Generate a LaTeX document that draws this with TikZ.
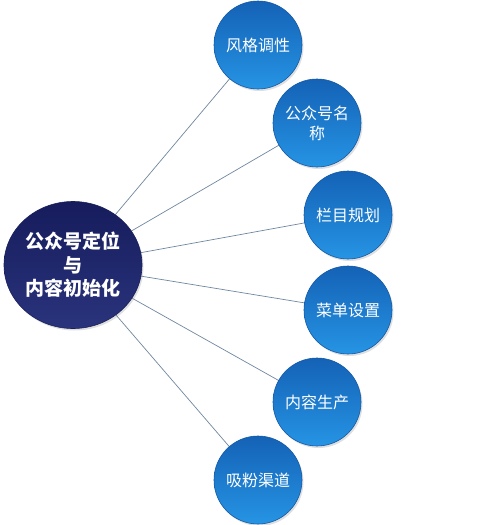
\documentclass[tikz,border=0pt]{standalone}
\usepackage{fontspec}
\newfontfamily\cjk{Noto Sans CJK SC}
\usetikzlibrary{shapes.geometric, shadows}
\usetikzlibrary{positioning}

\begin{document}
\begin{tikzpicture}[x=1pt, y=-1pt,
  hub/.style={ellipse, minimum width=138pt, minimum height=127pt, inner sep=0pt,
    shading=axis, top color={rgb,255:red,22;green,28;blue,92},
    middle color={rgb,255:red,28;green,36;blue,104},
    bottom color={rgb,255:red,42;green,52;blue,124},
    draw={rgb,255:red,24;green,30;blue,90}, line width=0.6pt,
    drop shadow={opacity=0.25, shadow xshift=1.5pt, shadow yshift=-2pt},
    text=white, align=center, font=\cjk\bfseries\fontsize{19}{23.5}\selectfont},
  leaf/.style={circle, minimum size=88pt, inner sep=0pt,
    shading=axis, top color={rgb,255:red,20;green,98;blue,182},
    middle color={rgb,255:red,28;green,122;blue,208},
    bottom color={rgb,255:red,38;green,148;blue,228},
    draw={rgb,255:red,20;green,88;blue,165}, line width=0.6pt,
    drop shadow={opacity=0.25, shadow xshift=1.5pt, shadow yshift=-2pt},
    text=white, align=center, font=\cjk\fontsize{16}{20}\selectfont},
  link/.style={draw={rgb,255:red,110;green,135;blue,160}, line width=0.7pt}]

\useasboundingbox (0,0) rectangle (494,525);

% spokes first, circles drawn over them
\coordinate (h) at (73, 265);
\coordinate (p1) at (258, 45);
\coordinate (p2) at (317, 123);
\coordinate (p3) at (348, 215);
\coordinate (p4) at (348, 310);
\coordinate (p5) at (317, 402);
\coordinate (p6) at (258, 480);

\foreach \i in {1,...,6}
  \draw[link] (h) -- (p\i);

\node[hub] at (h) (hub) {公众号定位\\与\\内容初始化};

\node[leaf] at (p1) (t1) {风格调性};
\node[leaf] at (p2) (t2) {公众号名\\称};
\node[leaf] at (p3) (t3) {栏目规划};
\node[leaf] at (p4) (t4) {菜单设置};
\node[leaf] at (p5) (t5) {内容生产};
\node[leaf] at (p6) (t6) {吸粉渠道};

\end{tikzpicture}
\end{document}
